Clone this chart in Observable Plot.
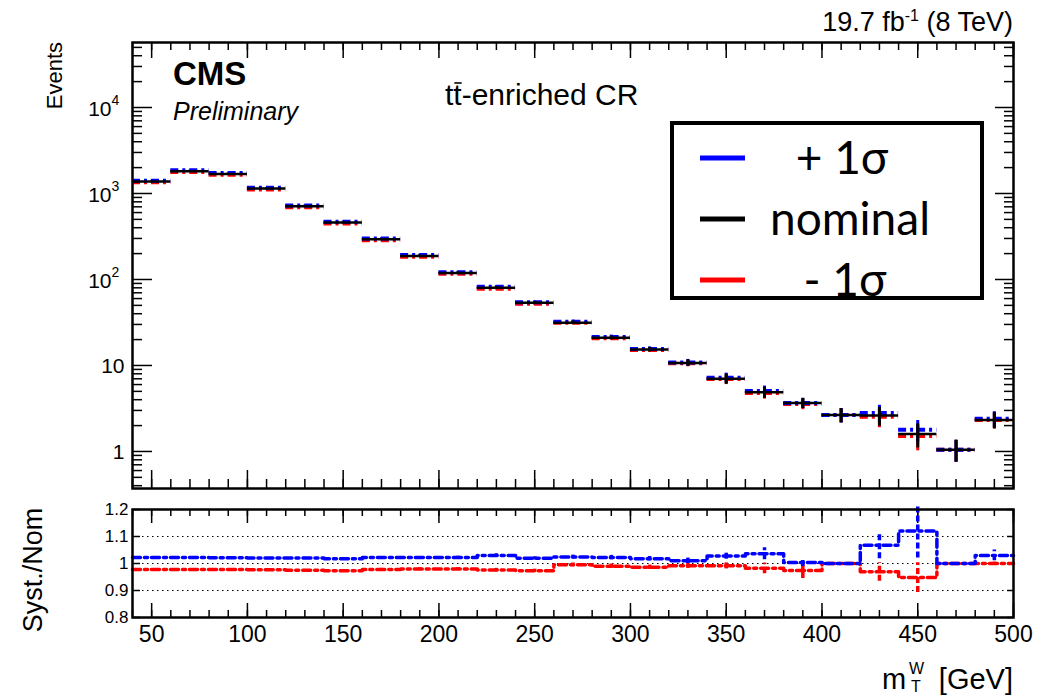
<!DOCTYPE html>
<html><head><meta charset="utf-8">
<script src="https://cdn.jsdelivr.net/npm/d3@7"></script>
<script src="https://cdn.jsdelivr.net/npm/@observablehq/plot@0.6"></script>
<style>
body{margin:0;background:#fff;}
#wrap{position:relative;width:1047px;height:696px;overflow:hidden;background:#fff;}
#wrap svg{position:absolute;left:0;}
</style></head><body><div id="wrap"></div>
<script>
// ---- data ----
const binEdges = [40,60,80,100,120,140,160,180,200,220,240,260,280,300,320,340,360,380,400,420,440,460,480,500];
const nominal = [1380,1820,1690,1140,710,460,293,188,119,80,53.5,31.5,21,15.3,10.7,7.0,4.87,3.65,2.65,2.62,1.6,1.05,2.33];
const nominalErr = [14,17,16,13,10,8,6,4.5,3.5,2.6,2.0,1.5,1.1,0.9,0.95,0.95,0.72,0.49,0.5,0.65,0.5,0.3,0.5];
const ratioUp   = [1.022,1.022,1.021,1.020,1.020,1.018,1.022,1.022,1.022,1.030,1.019,1.024,1.022,1.018,1.010,1.028,1.036,1.004,1.000,1.068,1.120,1.000,1.030];
const ratioDown = [0.978,0.978,0.978,0.977,0.975,0.973,0.978,0.980,0.980,0.976,0.973,0.995,0.990,0.986,0.992,0.992,0.982,0.974,1.000,0.969,0.948,1.000,1.000];
const ratioUpErr   = [0.002,0.002,0.002,0.002,0.003,0.003,0.004,0.004,0.005,0.006,0.006,0.007,0.008,0.008,0.010,0.012,0.022,0.015,0.003,0.050,0.100,0.003,0.020];
const ratioDownErr = [0.002,0.002,0.002,0.002,0.003,0.003,0.004,0.004,0.005,0.006,0.006,0.007,0.008,0.008,0.010,0.012,0.020,0.030,0.003,0.035,0.055,0.003,0.005];
const xMajorTicks = [50,100,150,200,250,300,350,400,450,500];
const xTickLabels = ["50","100","150","200","250","300","350","400","450","500"];
const yTickValues = [1,10,100,1000,10000];
const yTickBase = ["1","10","10","10","10"];
const yTickExp = ["","","2","3","4"];
const ratioTicks = [0.8,0.9,1,1.1,1.2];
const ratioTickLabels = ["0.8","0.9","1","1.1","1.2"];
const ratioGrid = [0.9,1,1.1];
const legendLabels = ["+ 1σ","nominal","- 1σ"];
const legendColors = ["#0000ff","#000000","#ff0000"];

// ---- layout ----
const W = 1047, mL = 132, mR = 34;
const frameW = W - mL - mR;
const H1 = 500, mT1 = 42, mB1 = 12, fH1 = H1 - mT1 - mB1;
const H2 = 196, mT2 = 9, mB2 = 79, fH2 = H2 - mT2 - mB2;
const FONT = "'Liberation Sans', Arial, Helvetica, sans-serif";
const BLUE = "#0000ff", RED = "#ff0000";
const DASH = "8,4,3,4";

const bins = nominal.map((v, i) => ({
  lo: binEdges[i], hi: binEdges[i+1], mid: (binEdges[i] + binEdges[i+1]) / 2,
  nom: v, err: nominalErr[i],
  up: v * ratioUp[i], down: v * ratioDown[i],
  rUp: ratioUp[i], rDown: ratioDown[i], eUp: ratioUpErr[i], eDown: ratioDownErr[i]
}));
const xMinor = d3.range(40, 501, 10);
const logMinor = [];
for (let k = -1; k <= 4; k++) for (let m = 2; m <= 9; m++) { const v = m * Math.pow(10, k); if (v > 0.371 && v < 57000) logMinor.push(v); }

const main = Plot.plot({
  width: W, height: H1, marginLeft: mL, marginRight: mR, marginTop: mT1, marginBottom: mB1,
  x: {domain: [40, 500], axis: null},
  y: {type: "log", domain: [0.371, 57000], axis: null},
  style: {background: "transparent", fontFamily: FONT, overflow: "visible"},
  marks: [
    Plot.ruleX(xMinor, {x: d => d, insetTop: fH1 - 9, strokeWidth: 1.5}),
    Plot.ruleX(xMajorTicks, {x: d => d, insetTop: fH1 - 18, strokeWidth: 1.5}),
    Plot.ruleX(xMinor, {x: d => d, insetBottom: fH1 - 8, strokeWidth: 1.5}),
    Plot.ruleX(xMajorTicks, {x: d => d, insetBottom: fH1 - 16, strokeWidth: 1.5}),
    Plot.ruleY(yTickValues, {y: d => d, insetRight: frameW - 20, strokeWidth: 1.5}),
    Plot.ruleY(logMinor, {y: d => d, insetRight: frameW - 10, strokeWidth: 1.5}),
    Plot.ruleY(yTickValues, {y: d => d, insetLeft: frameW - 18, strokeWidth: 1.5}),
    Plot.ruleY(logMinor, {y: d => d, insetLeft: frameW - 9, strokeWidth: 1.5}),
    Plot.ruleX(bins, {x: "mid", y1: d => d.down - d.err, y2: d => d.down + d.err, stroke: RED, strokeWidth: 3}),
    Plot.ruleX(bins, {x: "mid", y1: d => d.up - d.err, y2: d => d.up + d.err, stroke: BLUE, strokeWidth: 3}),
    Plot.ruleY(bins, {y: "down", x1: "lo", x2: "hi", stroke: RED, strokeWidth: 4, strokeDasharray: DASH}),
    Plot.ruleY(bins, {y: "up", x1: "lo", x2: "hi", stroke: BLUE, strokeWidth: 4, strokeDasharray: DASH}),
    Plot.ruleY(bins, {y: "nom", x1: "lo", x2: "hi", stroke: "#000", strokeWidth: 2.5}),
    Plot.ruleX(bins, {x: "mid", y1: d => d.nom - d.err, y2: d => d.nom + d.err, stroke: "#000", strokeWidth: 3}),
    Plot.frame({stroke: "#000", strokeWidth: 2.5}),
    Plot.text(d3.range(yTickValues.length), {filter: i => yTickExp[i] === "", y: i => yTickValues[i], text: i => yTickBase[i],
      frameAnchor: "left", textAnchor: "end", dx: -8, dy: 1, fontSize: 21}),
    Plot.text(d3.range(yTickValues.length), {filter: i => yTickExp[i] !== "", y: i => yTickValues[i], text: i => yTickBase[i],
      frameAnchor: "left", textAnchor: "end", dx: -21, dy: 2, fontSize: 21}),
    Plot.text(d3.range(yTickValues.length), {filter: i => yTickExp[i] !== "", y: i => yTickValues[i], text: i => yTickExp[i],
      frameAnchor: "left", textAnchor: "start", dx: -21, dy: -7, fontSize: 14})
  ]
});

const stepUp = bins.map(d => ({x: d.lo, y: d.rUp})).concat([{x: 500, y: ratioUp[ratioUp.length - 1]}]);
const stepDown = bins.map(d => ({x: d.lo, y: d.rDown})).concat([{x: 500, y: ratioDown[ratioDown.length - 1]}]);

const ratio = Plot.plot({
  width: W, height: H2, marginLeft: mL, marginRight: mR, marginTop: mT2, marginBottom: mB2,
  x: {domain: [40, 500], axis: null},
  y: {domain: [0.8, 1.2], axis: null},
  style: {background: "transparent", fontFamily: FONT, overflow: "visible"},
  marks: [
    Plot.ruleY(ratioGrid, {y: d => d, stroke: "#000", strokeWidth: 1.2, strokeDasharray: "1.5,3.5"}),
    Plot.ruleX(xMinor, {x: d => d, insetTop: fH2 - 7, strokeWidth: 1.5}),
    Plot.ruleX(xMajorTicks, {x: d => d, insetTop: fH2 - 14, strokeWidth: 1.5}),
    Plot.ruleX(xMinor, {x: d => d, insetBottom: fH2 - 7, strokeWidth: 1.5}),
    Plot.ruleX(xMajorTicks, {x: d => d, insetBottom: fH2 - 14, strokeWidth: 1.5}),
    Plot.ruleY(ratioTicks, {y: d => d, insetRight: frameW - 8, strokeWidth: 1.5}),
    Plot.ruleY(ratioTicks, {y: d => d, insetLeft: frameW - 6, strokeWidth: 1.5}),
    Plot.line(stepDown, {x: "x", y: "y", curve: "step-after", stroke: RED, strokeWidth: 3.5, strokeDasharray: DASH}),
    Plot.ruleX(bins, {x: "mid", y1: d => d.rDown - d.eDown, y2: d => d.rDown + d.eDown, stroke: RED, strokeWidth: 3.5, strokeDasharray: "6,3"}),
    Plot.line(stepUp, {x: "x", y: "y", curve: "step-after", stroke: BLUE, strokeWidth: 3.5, strokeDasharray: DASH}),
    Plot.ruleX(bins, {x: "mid", y1: d => d.rUp - d.eUp, y2: d => d.rUp + d.eUp, stroke: BLUE, strokeWidth: 3.5, strokeDasharray: "6,3"}),
    Plot.frame({stroke: "#000", strokeWidth: 2.5}),
    Plot.text(d3.range(xMajorTicks.length), {x: i => xMajorTicks[i], text: i => xTickLabels[i], frameAnchor: "bottom", lineAnchor: "top", dy: 8, fontSize: 23}),
    Plot.text(d3.range(ratioTicks.length), {y: i => ratioTicks[i], text: i => ratioTickLabels[i], frameAnchor: "left", textAnchor: "end", dx: -4, fontSize: 17})
  ]
});

const wrap = document.getElementById("wrap");
main.style.top = "0px";
ratio.style.top = H1 + "px";
wrap.appendChild(main);
wrap.appendChild(ratio);

// ---- annotations overlay ----
const ov = d3.select(wrap).append("svg").attr("width", W).attr("height", 696)
  .style("top", "0px").style("font-family", FONT);

const t1 = ov.append("text").attr("x", 1013).attr("y", 31).attr("text-anchor", "end").attr("font-size", 27);
t1.append("tspan").text("19.7 fb");
t1.append("tspan").attr("dy", -10).attr("font-size", 16).text("-1");
t1.append("tspan").attr("dy", 10).text(" (8 TeV)");

ov.append("text").attr("x", 173).attr("y", 85).attr("font-size", 33).attr("font-weight", "bold").text("CMS");
ov.append("text").attr("x", 173).attr("y", 120).attr("font-size", 25).attr("font-style", "italic").text("Preliminary");

const t2 = ov.append("text").attr("x", 445).attr("y", 105).attr("font-size", 30).text("tt-enriched CR");
{
  const node = t2.node();
  const p = node.getStartPositionOfChar(1).x;
  const w = node.getSubStringLength(1, 1);
  ov.append("line").attr("x1", p + 1).attr("x2", p + w).attr("y1", 83).attr("y2", 83)
    .attr("stroke", "#000").attr("stroke-width", 1.6);
}
ov.append("text").attr("transform", "translate(62,42) rotate(-90)").attr("text-anchor", "end").attr("font-size", 22).text("Events");
ov.append("text").attr("transform", "translate(42,570) rotate(-90)").attr("text-anchor", "middle").attr("font-size", 27).text("Syst./Nom");

ov.append("text").attr("x", 1013).attr("y", 689).attr("text-anchor", "end").attr("font-size", 29).text("[GeV]");
ov.append("text").attr("x", 882).attr("y", 689).attr("font-size", 29).text("m");
ov.append("text").attr("x", 909).attr("y", 674).attr("font-size", 16).text("W");
ov.append("text").attr("x", 911).attr("y", 692).attr("font-size", 16).text("T");

// legend
const lg = ov.append("g");
lg.append("rect").attr("x", 672).attr("y", 123).attr("width", 310).attr("height", 175)
  .attr("fill", "#fff").attr("stroke", "#000").attr("stroke-width", 4);
const legendX = [842, 850, 845];
legendLabels.forEach((lab, i) => {
  const cy = 158 + i * 61;
  lg.append("line").attr("x1", 700).attr("x2", 745).attr("y1", cy).attr("y2", cy)
    .attr("stroke", legendColors[i]).attr("stroke-width", 5);
  lg.append("text").attr("x", legendX[i]).attr("y", cy).attr("dy", "0.35em").attr("text-anchor", "middle")
    .attr("font-family", "Lato, 'Open Sans', sans-serif").attr("font-size", 46).text(lab);
});
</script></body></html>
